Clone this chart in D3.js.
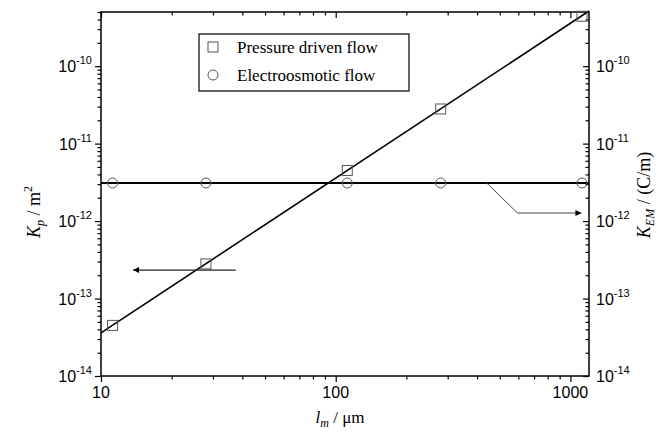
<!DOCTYPE html>
<html><head><meta charset="utf-8">
<script src="https://cdn.jsdelivr.net/npm/d3@7"></script>
<style>body{margin:0;background:#fff}svg{display:block}</style>
</head><body>
<svg id="c" width="660" height="436"></svg>
<script>
// ---- data ----
const lengths = [11.2, 28, 112, 280, 1120];            // l_m (µm)
const kpValues = [4.5e-14, 2.8e-13, 4.5e-12, 2.8e-11, 4.4e-10]; // pressure driven
const kemValues = [3.1e-12, 3.1e-12, 3.1e-12, 3.1e-12, 3.1e-12]; // electroosmotic
const fitX = [10, 1200];
const fitKp = [3.6e-14, 5.15e-10];
const fitKem = [3.1e-12, 3.1e-12];
const xTickLabels = [10, 100, 1000];
const yTickExps = [-14, -13, -12, -11, -10];
const legendLabels = ["Pressure driven flow", "Electroosmotic flow"];
const arrowLeft = [[37.5, 2.33e-13], [13.7, 2.33e-13]];
const arrowRight = [[440, 3.1e-12], [595, 1.27e-12], [1114, 1.27e-12]];

const svg = d3.select("#c");
const L = 101, R = 589, T = 12, B = 376;
const x = d3.scaleLog().domain([10, 1200]).range([L, R]);
const y = d3.scaleLog().domain([1e-14, 5e-10]).range([B, T]);

// minor / major ticks
const xMinor = [], yMinor = [];
for (let e = 1; e <= 3; e++) for (let m = 1; m <= 9; m++) { const v = m * Math.pow(10, e); if (v >= 10 && v <= 1200) xMinor.push(v); }
for (let e = -14; e <= -10; e++) for (let m = 1; m <= 9; m++) { const v = m * Math.pow(10, e); if (v >= 1e-14 && v <= 5e-10*1.0001) yMinor.push(v); }
const isMajor = v => Math.abs(Math.log10(v) - Math.round(Math.log10(v))) < 1e-6;

function axisGroup(axis, tr) {
  const g = svg.append("g").attr("transform", tr).call(axis);
  g.select(".domain").remove();
  g.selectAll("text").remove();
  g.selectAll("line").attr("stroke", "#000").attr("stroke-width", 1.2);
  return g;
}
const maj = v => isMajor(v) ? 6 : 3.5;
axisGroup(d3.axisBottom(x).tickValues(xMinor).tickSize(0), `translate(0,${B})`)
  .selectAll(".tick line").attr("y2", d => maj(d));
axisGroup(d3.axisTop(x).tickValues(xMinor).tickSize(0), `translate(0,${T})`)
  .selectAll(".tick line").attr("y2", d => maj(d));
axisGroup(d3.axisLeft(y).tickValues(yMinor).tickSize(0), `translate(${L},0)`)
  .selectAll(".tick line").attr("x2", d => -maj(d));
axisGroup(d3.axisRight(y).tickValues(yMinor).tickSize(0), `translate(${R},0)`)
  .selectAll(".tick line").attr("x2", d => -maj(d));

svg.append("rect").attr("x", L).attr("y", T).attr("width", R - L).attr("height", B - T)
  .attr("fill", "none").attr("stroke", "#000").attr("stroke-width", 1.5);

const sans = "'Liberation Sans', Arial, sans-serif";
const serif = "'Liberation Serif', 'Times New Roman', serif";

svg.append("g").selectAll("text").data(xTickLabels).join("text")
  .attr("x", d => x(d)).attr("y", B + 22).attr("text-anchor", "middle")
  .attr("font-family", sans).attr("font-size", 16).text(d => d);

function yLabels(xpos, anchor) {
  const t = svg.append("g").selectAll("text").data(yTickExps).join("text")
    .attr("x", xpos).attr("y", d => y(Math.pow(10, d)) + 6).attr("text-anchor", anchor)
    .attr("font-family", sans).attr("font-size", 16);
  t.append("tspan").text("10");
  t.append("tspan").attr("dy", -8).attr("font-size", 11).text(d => d);
}
yLabels(L - 9, "end");
yLabels(R + 7, "start");

const line = d3.line().x(d => x(d[0])).y(d => y(d[1]));
svg.append("path").datum(fitX.map((v, i) => [v, fitKp[i]])).attr("d", line)
  .attr("fill", "none").attr("stroke", "#000").attr("stroke-width", 1.6);
svg.append("path").datum(fitX.map((v, i) => [v, fitKem[i]])).attr("d", line)
  .attr("fill", "none").attr("stroke", "#000").attr("stroke-width", 2);

const mk = "#555";
svg.append("g").selectAll("rect").data(lengths).join("rect")
  .attr("x", (d) => x(d) - 5).attr("y", (d, i) => y(kpValues[i]) - 5)
  .attr("width", 10).attr("height", 10).attr("fill", "none").attr("stroke", mk).attr("stroke-width", 1);
svg.append("g").selectAll("circle").data(lengths).join("circle")
  .attr("cx", d => x(d)).attr("cy", (d, i) => y(kemValues[i])).attr("r", 5)
  .attr("fill", "none").attr("stroke", mk).attr("stroke-width", 1);

const defs = svg.append("defs");
defs.append("marker").attr("id", "ah").attr("viewBox", "0 0 10 10").attr("refX", 10).attr("refY", 5)
  .attr("markerWidth", 11).attr("markerHeight", 6).attr("markerUnits", "userSpaceOnUse").attr("orient", "auto")
  .append("path").attr("d", "M0,0 L10,5 L0,10 Z").attr("fill", "#000");
svg.append("path").datum(arrowLeft).attr("d", line).attr("fill", "none")
  .attr("stroke", "#222").attr("stroke-width", 1.2).attr("marker-end", "url(#ah)");
svg.append("path").datum(arrowRight).attr("d", line).attr("fill", "none")
  .attr("stroke", "#444").attr("stroke-width", 1).attr("marker-end", "url(#ah)");

const lg = svg.append("g");
lg.append("rect").attr("x", 199).attr("y", 34).attr("width", 210).attr("height", 57)
  .attr("fill", "#fff").attr("stroke", "#000").attr("stroke-width", 1.2);
lg.append("rect").attr("x", 208).attr("y", 42).attr("width", 10).attr("height", 10)
  .attr("fill", "none").attr("stroke", mk);
lg.append("circle").attr("cx", 213).attr("cy", 75).attr("r", 5).attr("fill", "none").attr("stroke", mk);
lg.selectAll("text").data(legendLabels).join("text")
  .attr("x", 237).attr("y", (d, i) => 53 + i * 28)
  .attr("font-family", serif).attr("font-size", 17).text(d => d);

const xt = svg.append("text").attr("x", 340).attr("y", 423).attr("text-anchor", "middle")
  .attr("font-family", serif).attr("font-size", 17);
xt.append("tspan").attr("font-style", "italic").text("l");
xt.append("tspan").attr("font-style", "italic").attr("font-size", 12).attr("dy", 4).text("m");
xt.append("tspan").attr("dy", -4).text(" / μm");

const ytl = svg.append("text").attr("transform", "translate(40,212) rotate(-90)").attr("text-anchor", "middle")
  .attr("font-family", serif).attr("font-size", 18);
ytl.append("tspan").attr("font-style", "italic").text("K");
ytl.append("tspan").attr("font-style", "italic").attr("font-size", 12).attr("dy", 4).text("p");
ytl.append("tspan").attr("dy", -4).text(" / m");
ytl.append("tspan").attr("font-size", 12).attr("dy", -8).text("2");

const ytr = svg.append("text").attr("transform", "translate(650,195) rotate(-90)").attr("text-anchor", "middle")
  .attr("font-family", serif).attr("font-size", 18);
ytr.append("tspan").attr("font-style", "italic").text("K");
ytr.append("tspan").attr("font-style", "italic").attr("font-size", 12).attr("dy", 4).text("EM");
ytr.append("tspan").attr("dy", -4).text(" / (C/m)");
</script>
</body></html>
